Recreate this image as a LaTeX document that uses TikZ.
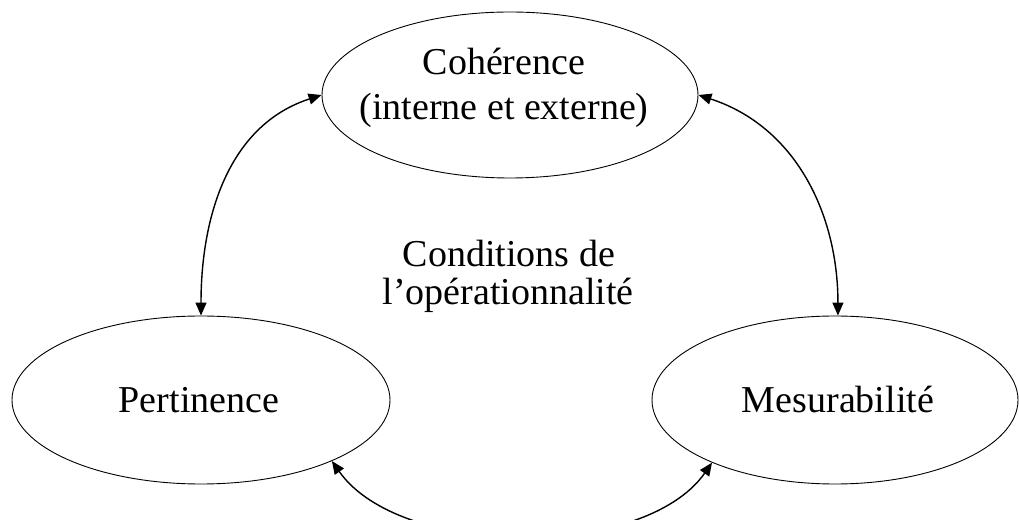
\documentclass[tikz,border=0pt]{standalone}
\usepackage{fontspec}
\setmainfont{Liberation Serif}
\usetikzlibrary{shapes.geometric,arrows.meta}
\begin{document}
\begin{tikzpicture}[x=1pt,y=1pt,
  oval/.style={draw,ellipse,line width=0.9pt,inner sep=0pt},
  lbl/.style={anchor=base,inner sep=0pt,font=\fontsize{38}{45}\selectfont},
  link/.style={line width=1.4pt,{Triangle[length=13pt,width=11pt]}-{Triangle[length=13pt,width=11pt]}}]
\useasboundingbox (0,0) rectangle (1019,519);
\node[oval,minimum width=376pt,minimum height=166pt] (top) at (510,424) {};
\node[oval,minimum width=378pt,minimum height=168pt] (left) at (201,119) {};
\node[oval,minimum width=366pt,minimum height=168pt] (right) at (835,119) {};
\node[lbl] (t1) at (504,444) {Cohérence};
\node[lbl] (t2) at (504,399) {(interne et externe)};
\node[lbl] (c1) at (509,252) {Conditions de};
\node[lbl] (c2) at (508,214) {l’opérationnalité};
\node[lbl] (p) at (199,106) {Pertinence};
\node[lbl] (m) at (838,106) {Mesurabilité};
\draw[link] (left.north) to[out=90,in=198] (top.west);
\draw[link] (top.east) to[out=-18,in=90] (right.88);
\draw[link] (left.-25) to[out=-55,in=-125,looseness=0.8] (right.207);
\end{tikzpicture}
\end{document}
